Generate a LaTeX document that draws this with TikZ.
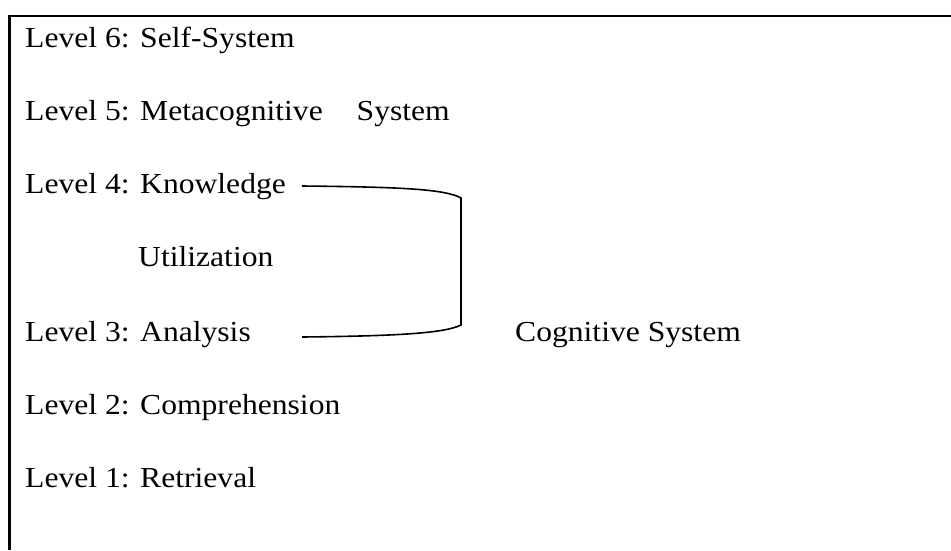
\documentclass[tikz,border=0pt]{standalone}
\usepackage{fontspec}
\setmainfont[FakeStretch=1.09]{Liberation Serif}
\begin{document}
\begin{tikzpicture}[x=1pt,y=1pt,
  lbl/.style={anchor=base west,inner sep=0pt,font=\fontsize{29}{34}\selectfont},
  frameline/.style={line width=2.4pt},
  bracketline/.style={line width=1.6pt}]
\useasboundingbox (0,0) rectangle (951,-550);
\draw[frameline] (951,-16) -- (9.5,-16) -- (9.5,-550);
\node[lbl] (l6) at (25,-47) {Level 6: Self-System};
\node[lbl] (l5) at (25,-120) {Level 5: Metacognitive\hspace{26pt} System};
\node[lbl] (l4) at (25,-193) {Level 4: Knowledge};
\node[lbl] (util) at (138,-266) {Utilization};
\node[lbl] (l3) at (25,-341) {Level 3: Analysis};
\node[lbl] (l2) at (25,-414) {Level 2: Comprehension};
\node[lbl] (l1) at (25,-487) {Level 1: Retrieval};
\node[lbl] (cog) at (515,-341) {Cognitive System};
\coordinate (bt) at (302,-186);
\coordinate (bb) at (302,-337);
\draw[bracketline] (bt) .. controls (400,-187) and (445,-189) .. (461,-198)
  -- (461,-325) .. controls (445,-333) and (400,-336) .. (bb);
\end{tikzpicture}
\end{document}
